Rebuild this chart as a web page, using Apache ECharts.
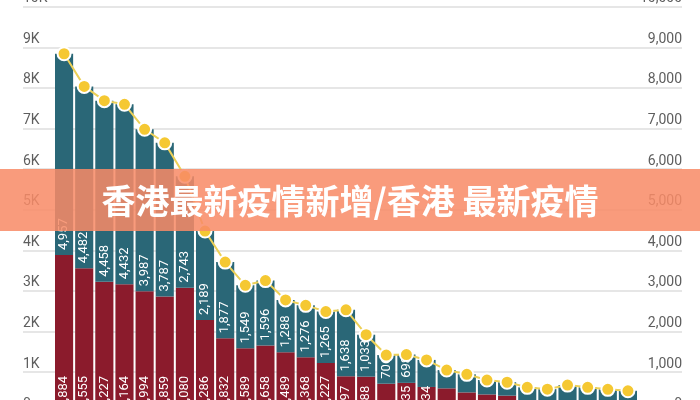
<!DOCTYPE html>
<html>
<head>
<meta charset="utf-8">
<script src="https://cdn.jsdelivr.net/npm/echarts@6/dist/echarts.min.js"></script>
<style>html,body{margin:0;padding:0;background:#fff;}#c{width:700px;height:400px;}</style>
</head>
<body>
<div id="c"></div>
<script>
// Data
var days = ['1','2','3','4','5','6','7','8','9','10','11','12','13','14','15','16','17','18','19','20','21','22','23','24','25','26','27','28','29'];
var lowerPart = [3884,3555,3227,3164,2994,2859,3080,2286,1832,1589,1658,1489,1368,1227,897,888,714,735,634,600,500,450,420,280,260,300,270,250,240];
var upperPart = [4957,4482,4458,4432,3987,3787,2743,2189,1877,1549,1596,1288,1276,1265,1638,1033,706,698,666,450,445,355,330,345,320,380,355,325,300];
var totalLine = [8841,8037,7685,7596,6981,6646,5823,4475,3709,3138,3254,2777,2644,2492,2535,1921,1420,1433,1300,1050,945,805,750,625,580,680,625,575,540];
var leftTicks = ['0','1K','2K','3K','4K','5K','6K','7K','8K','9K','10K'];
var bannerText = '香港最新疫情新增/香港 最新疫情';

var chart = echarts.init(document.getElementById('c'), null, {renderer: 'canvas'});
var TOP = 6.7, H = 406;
var font = 'Roboto, "Noto Sans", sans-serif';

function barLabel(th, skip) {
  return {
    show: true, position: 'insideBottom', rotate: 90, align: 'left', verticalAlign: 'middle',
    distance: 5, color: '#fff', fontSize: 13, fontFamily: font,
    formatter: function (p) {
      if (skip.indexOf(p.dataIndex) >= 0) return '';
      return p.value >= th ? p.value.toLocaleString('en-US') : '';
    }
  };
}

chart.setOption({
  animation: false,
  backgroundColor: '#fff',
  grid: [
    {left: 23, right: 18, top: TOP, height: H, containLabel: false, outerBoundsMode: 'none'},
    {left: 54, right: 62, top: TOP, height: H, containLabel: false, outerBoundsMode: 'none'}
  ],
  xAxis: [
    {type: 'category', gridIndex: 0, data: [''], show: false},
    {type: 'category', gridIndex: 1, data: days, show: false, boundaryGap: true}
  ],
  yAxis: [
    {type: 'value', gridIndex: 0, position: 'left', min: 0, max: 10000, interval: 1000,
      axisLine: {show: false}, axisTick: {show: false},
      splitLine: {show: true, lineStyle: {color: '#e6e6e6', width: 2}},
      axisLabel: {inside: true, margin: 0, align: 'left', verticalAlign: 'bottom', padding: [0, 0, 1, 0],
        color: '#5e5e5e', fontSize: 14, fontFamily: font,
        formatter: function (v) { return leftTicks[Math.round(v / 1000)]; }}},
    {type: 'value', gridIndex: 0, position: 'right', min: 0, max: 10000, interval: 1000,
      axisLine: {show: false}, axisTick: {show: false}, splitLine: {show: false},
      axisLabel: {inside: true, margin: 0, align: 'right', verticalAlign: 'bottom', padding: [0, 0, 1, 0],
        color: '#5e5e5e', fontSize: 14, fontFamily: font,
        formatter: function (v) { return v.toLocaleString('en-US'); }}},
    {type: 'value', gridIndex: 1, min: 0, max: 10000, show: false, splitLine: {show: false}}
  ],
  series: [
    {type: 'bar', name: 'lower', xAxisIndex: 1, yAxisIndex: 2, stack: 's', data: lowerPart,
      barCategoryGap: '10%', itemStyle: {color: '#8b1b2c'}, label: barLabel(620, [16])},
    {type: 'bar', name: 'upper', xAxisIndex: 1, yAxisIndex: 2, stack: 's', data: upperPart,
      barCategoryGap: '10%', itemStyle: {color: '#2a6777'}, label: barLabel(690, [])},
    {type: 'line', name: 'total', xAxisIndex: 1, yAxisIndex: 2, data: totalLine, z: 5,
      lineStyle: {color: '#ecd058', width: 2}, symbol: 'circle', symbolSize: 13,
      itemStyle: {color: '#f5c832', borderColor: '#fff', borderWidth: 2}}
  ],
  graphic: [
    {type: 'rect', z: 100, shape: {x: 0, y: 169, width: 700, height: 62},
      style: {fill: 'rgba(248,138,102,0.86)'}},
    {type: 'text', z: 101, x: 350, y: 201,
      style: {text: bannerText, fill: '#fff', font: 'bold 34px "Noto Sans CJK SC", sans-serif',
        textAlign: 'center', textVerticalAlign: 'middle'}}
  ]
});
</script>
</body>
</html>
